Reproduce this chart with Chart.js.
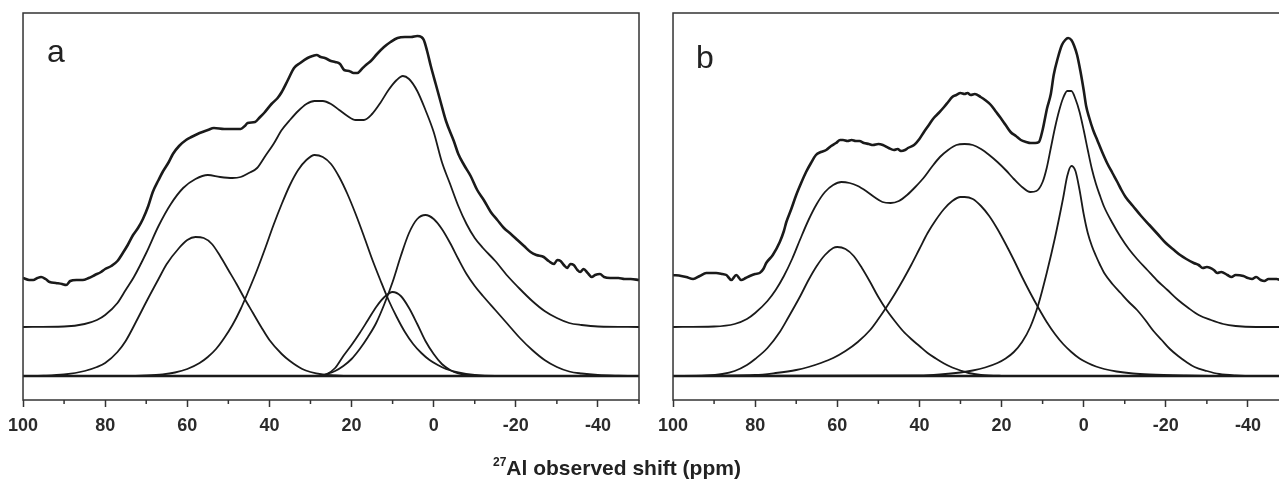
<!DOCTYPE html>
<html>
<head>
<meta charset="utf-8">
<script src="https://cdn.jsdelivr.net/npm/chart.js@4.4.1/dist/chart.umd.min.js"></script>
<style>
  html, body { margin: 0; padding: 0; background: #fff; }
  body { width: 1279px; height: 479px; overflow: hidden; position: relative; font-family: "Liberation Sans", Arial, sans-serif; }
  canvas { position: absolute; top: 0; }
  #chartA { left: 0; }
  #chartB { left: 650px; }
  .panel { position: absolute; font-size: 32px; line-height: 1; color: #222; }
  #xtitle { position: absolute; left: 493px; top: 457px; font-size: 21px; line-height: 1; font-weight: bold; color: #222; white-space: nowrap; }
  #xtitle span { font-size: 12px; position: relative; top: -9px; }
</style>
</head>
<body>
<canvas id="chartA" width="660" height="479"></canvas>
<canvas id="chartB" width="660" height="479"></canvas>
<div class="panel" style="left:47px; top:35px;">a</div>
<div class="panel" style="left:696px; top:41px;">b</div>
<div id="xtitle"><span>27</span>Al observed shift (ppm)</div>
<script>
// x axis (ppm, reversed)
const tickValues = [100, 90, 80, 70, 60, 50, 40, 30, 20, 10, 0, -10, -20, -30, -40, -50];
const tickLabels = [100, 80, 60, 40, 20, 0, -20, -40];

// panel a : [shift ppm, intensity]
const expA = [[100,98],[98.5,96],[97.5,96],[96.5,98],[95.6,99],[94.5,97],[93.5,94],[92,93],[90.5,92],[89.5,91],[88.5,95],[87,96],[85.5,96],[84,98],[82.5,101],[81,104],[80,107],[78.5,110],[77,115],[75.7,123],[74.5,131],[73.2,141],[72,148],[70.8,157],[69.5,170],[68.4,184],[67,196],[66,204],[64.5,214],[63.5,222],[62,230],[60.3,236],[59,239],[57,243],[55,246],[53.5,248],[51,247],[49,247],[47,247],[46,250],[45.3,253],[43.5,254],[42.5,258],[41.3,263],[39.5,272],[38,278],[37,284],[35.5,296],[34,308],[32.5,313],[30.7,318],[29.5,320],[28.5,321],[27.5,319],[26.5,318],[25,315],[24,314],[22.8,312],[21.8,306],[20.6,305],[19.5,303],[18.6,303],[17.5,307],[16.5,311],[15.3,315],[13.8,322],[12.1,329],[10.5,334],[8.8,338],[7,339],[5.5,339],[4,340],[3,339],[2.4,336],[1.6,325],[0.7,310],[-0.5,292],[-1.7,274],[-3,255],[-4.9,235],[-6,222],[-7.4,211],[-9,200],[-10.6,186],[-12.2,176],[-13.9,164],[-15.5,156],[-17.1,148],[-18.8,142],[-20.4,136],[-22,130],[-23.6,124],[-25,121],[-26.8,119],[-28,115],[-29.3,112],[-30.1,116],[-30.9,115],[-31.7,111],[-32.5,108],[-33.3,112],[-34.1,111],[-35,106],[-35.7,104],[-36.5,107],[-37.5,103],[-38.5,99],[-39.3,101],[-40.5,102],[-41.5,99],[-43,98],[-45,98],[-46.5,97],[-48,97],[-50,96]];
const sumA = [[100,49],[90,49.5],[85,52],[82,56],[80,61],[77,73],[75,86],[73,99],[70,123],[67,150],[64,172],[61,188],[58,197],[55,201],[52,199],[49,198],[47,199],[45,203],[43,208],[41,220],[39,232],[37,246],[35,256],[33,265],[31,272],[29,275],[27,275],[25,272],[23,266],[21,260],[19,256],[17,256],[15,262],[13,273],[11,286],[9,296],[7.5,300],[6,297],[4,285],[2,266],[0,244],[-2,214],[-4,192],[-6,170],[-8,152],[-10,138],[-12,128],[-15,115],[-18,100],[-21,87],[-24,75],[-27,65],[-30,58],[-33,53],[-36,51],[-40,49.5],[-50,49]];
const a1 = [[100,0],[95,0.3],[90,1.5],[85,5],[82,9],[80,13],[77,24],[75,35],[72,58],[70,74],[67,97],[65,112],[62,128],[60,136],[58,139],[56,138],[54,132],[52,120],[50,106],[48,92],[46,77],[44,63],[42,49],[40,36],[37,22],[35,15],[32,7],[30,4],[27,1.5],[24,0.5],[20,0],[-50,0]];
const a2 = [[100,0],[75,0],[70,0.5],[66,1.6],[63,3.5],[60,7],[57,13],[55,19],[53,27],[51,38],[49,51],[47,67],[45,86],[43,106],[41,128],[39,151],[37,172],[35,191],[33,206],[31,216],[29,221],[27,219],[25,212],[23,199],[21,182],[19,162],[17,140],[15,117],[13,96],[11,76],[9,59],[7,44],[5,32],[3,23],[1,16],[-1,11],[-3,7],[-6,3.5],[-10,1],[-15,0],[-50,0]];
const a3 = [[100,0],[28,0],[26,2],[24,8],[22,20],[20,31],[18,43],[16,56],[14,69],[12,79],[10,84],[8,80],[6,68],[4,52],[2,35],[0,22],[-2,12],[-4,6],[-6,2.5],[-8,1],[-11,0],[-50,0]];
const a4 = [[100,0],[28,0],[26,2],[24,5],[22,10],[20,17],[18,27],[16,39],[14,53],[12,72],[10,94],[8,120],[6,143],[4,157],[2,161],[0,157],[-2,147],[-4,133],[-6,117],[-8,102],[-10,90],[-12,80],[-15,66],[-18,52],[-21,38],[-24,26],[-27,16],[-30,9],[-33,4.5],[-36,2.5],[-40,1],[-45,0.3],[-50,0]];

// panel b
const expB = [[100,101],[98,100],[96.8,99],[95.1,97],[93.5,100],[91.9,103],[90.5,103],[89.5,103],[88,102],[87,101],[85.8,96],[84.6,101],[83.4,96],[82.3,98],[81.3,100],[80,102],[78.9,103],[78,107],[77.3,113],[75.7,121],[74,134],[73,145],[72.4,154],[71.2,167],[70,181],[68.8,193],[67.6,204],[66.4,213],[65.2,221],[64,224],[62.7,226],[61.5,230],[60.3,233],[59.3,236],[58.6,236],[57.5,235],[56.5,236],[55.5,235],[54.6,235],[53.5,233],[52.3,232],[51.3,231],[50,232],[48.9,231],[47.5,228],[46.2,226],[45.3,227],[44.5,225],[43.5,226],[42.8,228],[41.3,231],[40,237],[38.9,244],[37.7,251],[36.5,258],[35.3,263],[34,269],[33,274],[32,279],[31,281],[30,283],[29,282],[28.3,283],[27.5,281],[26.5,282],[25.1,279],[24,276],[22.6,271],[21.5,265],[20.2,258],[19,251],[17.8,244],[16.5,240],[15.3,236],[14,234],[12.9,233],[11.8,233],[10.9,234],[10,246],[8.9,268],[8,282],[7.3,301],[6.3,318],[5.3,331],[4.5,336],[3.8,338],[3,336],[2.3,330],[1.6,321],[0.8,305],[0,286],[-0.6,270],[-1.3,259],[-2.3,246],[-3.3,236],[-4.5,224],[-5.7,213],[-7,203],[-8.2,194],[-9.2,186],[-10.2,179],[-12,170],[-14,160],[-16,151],[-18,142],[-20,133],[-22,126],[-23.5,121],[-25,117],[-26.8,113],[-28,111],[-29,108],[-30,109],[-31.7,106],[-32.5,103],[-33.5,104],[-35,101],[-36,99],[-37,101],[-38.9,100],[-40,98],[-41,97],[-42,99],[-43.1,96],[-44,95],[-45,97],[-47,97],[-48,96],[-50,97]];
const sumB = [[100,49],[90,49.5],[85,52],[82,57],[80,63],[77,75],[75,86],[73,100],[71,117],[69,137],[67,156],[65,172],[63,184],[61,191],[59,194],[57,193],[55,190],[53,185],[51,179],[49,174],[47,173],[45,175],[43,181],[41,189],[39,198],[37,209],[35,219],[33,226],[31,231],[29,232],[27,231],[25,227],[23,221],[21,214],[19,206],[17,197],[15,189],[13,184],[11.5,185],[10,194],[9,208],[8,228],[7,248],[6,265],[5,278],[4,285],[3,285],[2,277],[1,264],[0,246],[-1,226],[-2,207],[-3,192],[-4,180],[-5,169],[-7,153],[-9,139],[-11,127],[-13,117],[-15.5,106],[-18,95],[-20.4,86],[-23,76],[-25.5,68],[-28,61],[-31,56],[-34,52],[-37,50],[-42,49],[-50,49]];
const b1 = [[100,0],[92,0.5],[88,2],[85,5],[82,11],[80,17],[77,28],[74,44],[72,58],[69,80],[67,96],[65,110],[63,121],[61,128],[60,129],[58,127],[56,120],[54,108],[52,94],[50,79],[48,66],[46,55],[44,45],[42,37],[40,30],[38,23],[36,17.5],[34,12.5],[32,8.5],[30,5.5],[28,3],[25,1.2],[20,0.2],[15,0],[-50,0]];
const b2 = [[100,0],[80,1],[75,3],[70,6],[67,9],[64,13],[61,18],[58,25],[55,34],[52,46],[50,57],[48,69],[46,82],[44,96],[42,111],[40,127],[38,143],[36,156],[34,167],[32,175],[30,179],[29,179],[27,177],[25,170],[23,160],[21,147],[19,132],[17,116],[15,99],[13,83],[11,68],[9,54],[7,42],[5,32],[3,24],[1,17.5],[-1,13],[-3,9.5],[-5,7],[-8,4.5],[-12,2.5],[-16,1.5],[-25,0.5],[-35,0],[-50,0]];
const b3 = [[100,0],[40,0.5],[35,1.5],[30,3.5],[27,5.5],[24,8.5],[21,13],[19,17.5],[17,24],[15,34],[13,49],[11,72],[9,103],[7,138],[5,178],[4,200],[3,210],[2,205],[1,186],[0,162],[-1,143],[-2,130],[-3,120],[-4,111],[-5,103],[-7,92],[-9,83],[-11,74],[-13,66],[-15,56],[-17,45],[-19,36],[-21,27],[-23,20],[-25,14],[-27,9],[-30,5],[-33,2],[-37,0.5],[-42,0],[-50,0]];
const baseline = [[100,0],[-50,0]];

const ink = '#1a1a1a';
const toPts = pairs => pairs.map(([x, y]) => ({ x, y }));

function line(pairs, width) {
  return {
    data: toPts(pairs),
    borderColor: ink,
    borderWidth: width,
    pointRadius: 0,
    fill: false,
    cubicInterpolationMode: 'monotone'
  };
}

// box round the plot area and the short minor ticks
const framePlugin = {
  id: 'frame',
  afterDraw(chart) {
    const { ctx, chartArea: a, scales: { x } } = chart;
    ctx.save();
    ctx.strokeStyle = '#333';
    ctx.lineWidth = 1.5;
    ctx.strokeRect(a.left, a.top, a.right - a.left, a.bottom - a.top);
    tickValues.filter(v => !tickLabels.includes(v)).forEach(v => {
      const px = x.getPixelForValue(v);
      ctx.beginPath();
      ctx.moveTo(px, a.bottom);
      ctx.lineTo(px, a.bottom + 4);
      ctx.stroke();
    });
    ctx.restore();
  }
};

function makeChart(id, curves) {
  new Chart(document.getElementById(id), {
    type: 'line',
    data: { datasets: curves },
    options: {
      responsive: false,
      animation: false,
      events: [],
      layout: { padding: { left: 22, right: 21, top: 13, bottom: 0 } },
      plugins: { legend: { display: false }, tooltip: { enabled: false } },
      scales: {
        x: {
          type: 'linear',
          reverse: true,
          min: -50,
          max: 100,
          afterBuildTicks: axis => { axis.ticks = tickValues.map(v => ({ value: v })); },
          afterFit: axis => { axis.height = 79; },
          ticks: {
            autoSkip: false,
            maxRotation: 0,
            padding: 8,
            color: '#2b2b2b',
            font: { family: '"Liberation Sans", Arial, sans-serif', size: 18, weight: 'bold' },
            callback: v => tickLabels.includes(v) ? String(v) : ''
          },
          grid: {
            drawOnChartArea: false,
            drawTicks: true,
            tickLength: 7,
            tickWidth: 1.5,
            tickColor: ctx => (ctx.tick && tickLabels.includes(ctx.tick.value)) ? '#333' : 'rgba(0,0,0,0)'
          },
          border: { display: false }
        },
        y: { display: false, min: -24, max: 363 }
      }
    },
    plugins: [framePlugin]
  });
}

makeChart('chartA', [
  line(baseline, 2.6),
  line(a1, 1.8), line(a2, 1.8), line(a3, 1.8), line(a4, 1.8),
  line(sumA, 1.8),
  line(expA, 2.6)
]);

makeChart('chartB', [
  line(baseline, 2.6),
  line(b1, 1.8), line(b2, 1.8), line(b3, 1.8),
  line(sumB, 1.8),
  line(expB, 2.6)
]);
</script>
</body>
</html>
